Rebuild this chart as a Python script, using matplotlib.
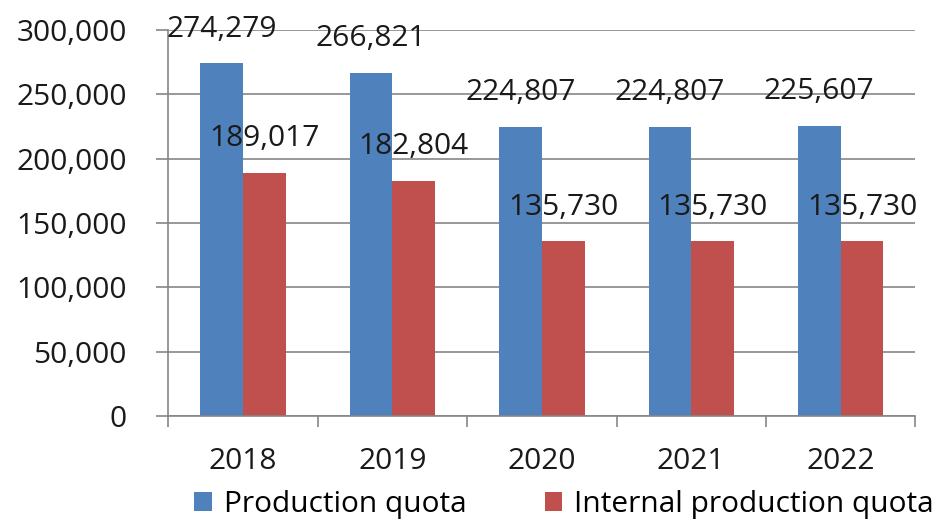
import matplotlib.pyplot as plt
import numpy as np
from matplotlib.ticker import FuncFormatter, FixedLocator

years = ['2018', '2019', '2020', '2021', '2022']
production_quota = [274279, 266821, 224807, 224807, 225607]
internal_quota = [189017, 182804, 135730, 135730, 135730]

plt.rcParams['font.family'] = ['Open Sans', 'DejaVu Sans']

fig = plt.figure(figsize=(9.35, 5.2), dpi=100)
ax = fig.add_axes([0.18, 0.2, 0.799, 0.742])

x = np.arange(len(years))
w = 0.286
b1 = ax.bar(x - w / 2, production_quota, w, color='#4F81BD', label='Production quota', zorder=2)
b2 = ax.bar(x + w / 2, internal_quota, w, color='#C0504D', label='Internal production quota', zorder=2)

# value labels sit a bit above each bar
for bars in (b1, b2):
    for r in bars:
        v = r.get_height()
        ax.annotate(f'{v:,.0f}', (r.get_x() + r.get_width() / 2, v),
                    xytext=(0, 34), textcoords='offset pixels',
                    ha='center', va='center', fontsize=21.5, color='#1a1a1a', zorder=3)

ax.set_xlim(-0.5, len(years) - 0.5)
ax.set_ylim(0, 300000)
ax.set_yticks(range(0, 300001, 50000))
ax.yaxis.set_major_formatter(FuncFormatter(lambda v, p: f'{v:,.0f}'))
ax.yaxis.grid(True, color='#868686', linewidth=1.2, zorder=0)

ax.set_xticks(x)
ax.set_xticklabels(years)
ax.xaxis.set_minor_locator(FixedLocator(np.arange(-0.5, len(years), 1.0)))
ax.tick_params(axis='x', which='major', length=0, pad=22, labelsize=21.5, colors='#1a1a1a')
ax.tick_params(axis='x', which='minor', length=8, width=1.2, color='#868686')
ax.tick_params(axis='y', length=9, width=1.2, labelsize=21.5, pad=21, labelcolor='#1a1a1a', color='#868686')

for s in ('top', 'right'):
    ax.spines[s].set_visible(False)
for s in ('left', 'bottom'):
    ax.spines[s].set_color('#868686')
    ax.spines[s].set_linewidth(1.2)

ax.legend(loc='center', bbox_to_anchor=(0.53, -0.23), ncol=2, frameon=False,
          fontsize=21.5, handlelength=0.6, handleheight=0.6, handletextpad=0.4,
          columnspacing=2.6, borderaxespad=0)

fig.savefig('out.png', dpi=100)
